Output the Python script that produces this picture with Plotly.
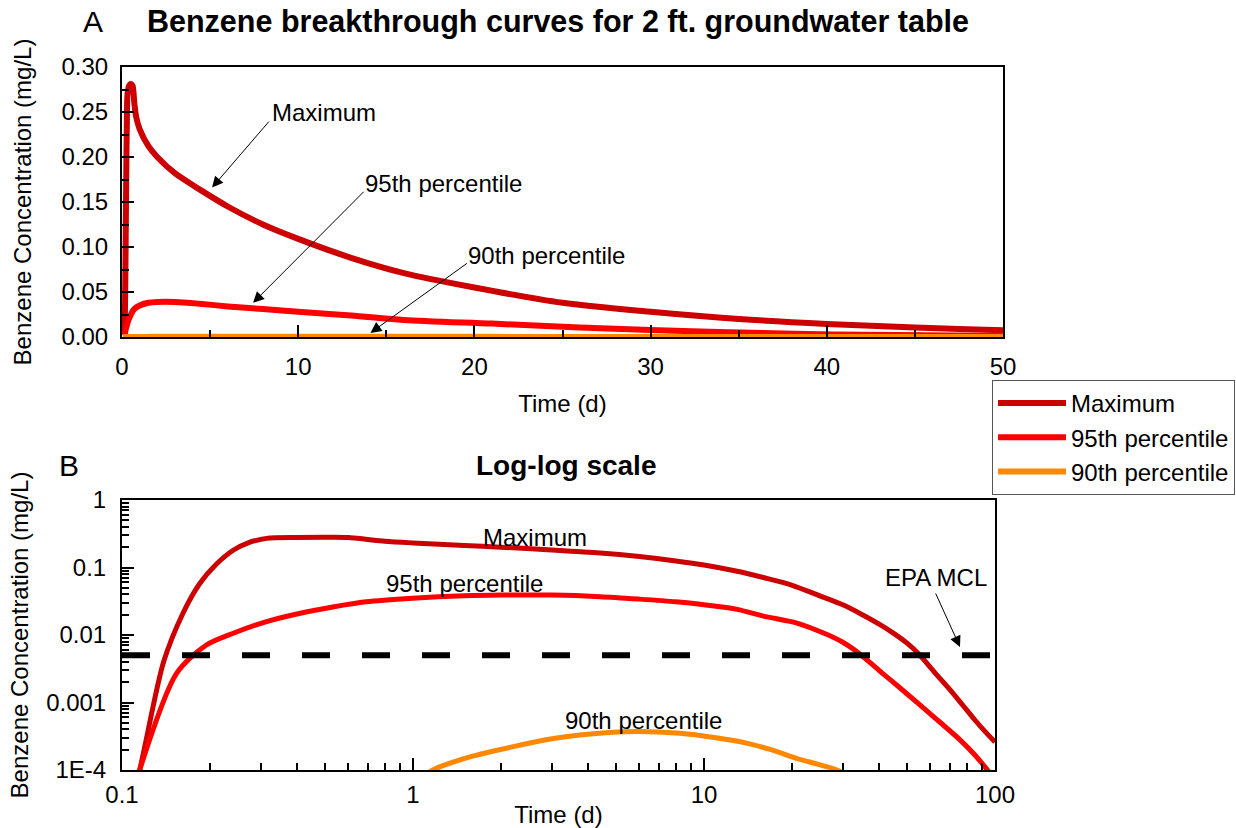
import numpy as np
import plotly.graph_objects as go

# Benzene breakthrough results for a 2 ft. groundwater table
# time in days, concentration in mg/L
time_max = [0.10, 0.115, 0.139, 0.162, 0.185, 0.21, 0.241, 0.27, 0.314, 0.40, 0.50, 0.60,
            0.70, 0.80, 1.0, 1.5, 2.0, 3.0, 4.4, 6.0, 8.0, 10.0, 13.0, 16.0, 20.0, 25.0,
            30.0, 35.0, 40.0, 45.0, 50.0, 55.0, 62.0, 70.0, 78.0, 85.0, 92.0, 100.0]
conc_max = [1e-5, 1.0e-4, 0.004, 0.021, 0.058, 0.11, 0.18, 0.23, 0.27, 0.279, 0.281, 0.279,
            0.26, 0.245, 0.231, 0.212, 0.200, 0.182, 0.164, 0.145, 0.125, 0.109, 0.088, 0.071,
            0.055, 0.038, 0.028, 0.020, 0.0145, 0.0105, 0.0075, 0.0051, 0.0028, 0.00155,
            0.00088, 0.00056, 0.00038, 0.00026]

time_p95 = [0.10, 0.115, 0.154, 0.195, 0.241, 0.314, 0.41, 0.53, 0.69, 1.0, 1.5, 2.0, 3.0,
            4.4, 6.0, 8.0, 10.0, 13.0, 16.0, 21.0, 26.0, 30.0, 34.4, 40.3, 47.2, 55.2, 64.7,
            75.8, 85.3, 92.4, 100.0]
conc_p95 = [1e-5, 1.0e-4, 0.0027, 0.0071, 0.0106, 0.0158, 0.021, 0.026, 0.031, 0.035, 0.038,
            0.039, 0.039, 0.037, 0.034, 0.031, 0.028, 0.024, 0.019, 0.0149, 0.0105, 0.0078,
            0.0052, 0.0029, 0.00164, 0.00092, 0.00051, 0.00028, 0.000167, 0.000111, 0.000071]

time_p90 = [0.10, 0.50, 1.0, 1.17, 1.6, 2.21, 3.0, 3.74, 5.42, 8.27, 11.0, 14.0, 17.0, 20.8,
            24.5, 28.6, 35.0, 50.0, 100.0]
conc_p90 = [1e-7, 5e-6, 6e-5, 1.0e-4, 0.00016, 0.000222, 0.00029, 0.00033, 0.00037, 0.00035,
            0.0003, 0.00025, 0.0002, 0.000149, 0.000122, 0.0001, 6e-5, 1.5e-5, 1e-7]

series_names = ["Maximum", "95th percentile", "90th percentile"]
series_colors = ["#cc0000", "#ff0000", "#ff8800"]
series_time = [time_max, time_p95, time_p90]
series_conc = [conc_max, conc_p95, conc_p90]

epa_mcl = 0.005            # benzene MCL, mg/L
loglog_time_span = [0.1, 100]

lin_xticks = [0, 10, 20, 30, 40, 50]
lin_yticks = [0.00, 0.05, 0.10, 0.15, 0.20, 0.25, 0.30]
log_xticks = [0.1, 1, 10, 100]
log_xticklabels = ["0.1", "1", "10", "100"]
log_yticks = [1e-4, 1e-3, 1e-2, 1e-1, 1]
log_yticklabels = ["1E-4", "0.001", "0.01", "0.1", "1"]

# label placement (time, concentration) for the curve callouts
lin_labels = [("Maximum", 8.41, 0.249, 8.41, 0.241, 5.11, 0.166),
              ("95th percentile", 13.7, 0.171, 13.8, 0.163, 7.44, 0.038),
              ("90th percentile", 19.55, 0.091, 19.66, 0.083, 14.1, 0.0045)]
log_labels = [("Maximum", 2.63, 0.283),
              ("95th percentile", 1.50, 0.057),
              ("90th percentile", 6.22, 0.00055),
              ("EPA MCL", 62.7, 0.0723)]
mcl_arrow = (62.2, 0.0434, 75.8, 0.00664)

FONT = "Liberation Sans, Arial, sans-serif"
FS = 24
W, H = 1236, 828

fig = go.Figure()

# linear panel
for t, c, name, color in zip(series_time, series_conc, series_names, series_colors):
    fig.add_trace(go.Scatter(x=t, y=c, name=name, mode="lines", legendgroup=name,
                             line=dict(color=color, width=6, shape="spline", smoothing=0.8),
                             xaxis="x", yaxis="y"))

# log-log panel
for t, c, name, color in zip(series_time, series_conc, series_names, series_colors):
    fig.add_trace(go.Scatter(x=t, y=c, name=name, mode="lines", legendgroup=name,
                             showlegend=False,
                             line=dict(color=color, width=5, shape="spline", smoothing=0.8),
                             xaxis="x2", yaxis="y2"))

fig.add_trace(go.Scatter(x=loglog_time_span, y=[epa_mcl, epa_mcl], mode="lines",
                         showlegend=False, name="EPA MCL",
                         line=dict(color="black", width=6, dash="28px,32px"),
                         xaxis="x2", yaxis="y2"))

axis_style = dict(showline=True, linecolor="black", linewidth=2, mirror=True,
                  ticks="inside", ticklen=12, tickwidth=2, tickcolor="black",
                  showgrid=False, zeroline=False,
                  tickfont=dict(family=FONT, size=FS, color="black"))
minor_style = dict(ticks="inside", ticklen=7, tickwidth=2, tickcolor="black", showgrid=False)

fig.update_layout(
    width=W, height=H,
    paper_bgcolor="white", plot_bgcolor="white",
    margin=dict(l=0, r=0, t=0, b=0, autoexpand=False),
    font=dict(family=FONT, size=FS, color="black"),
    xaxis=dict(**axis_style, domain=[122 / W, 1003 / W], anchor="y", range=[0, 50],
               tickvals=lin_xticks, minor=dict(**minor_style, dtick=5),
               ticklabelstandoff=7,
               title=dict(text="Time (d)", font=dict(size=FS), standoff=16)),
    yaxis=dict(**axis_style, domain=[1 - 337 / H, 1 - 67 / H], anchor="x", range=[0, 0.30],
               tickvals=lin_yticks, tickformat=".2f", minor=dict(**minor_style, dtick=0.025),
               ticklabelstandoff=7,
               title=dict(text="Benzene Concentration (mg/L)", font=dict(size=FS), standoff=23)),
    xaxis2=dict(**axis_style, type="log", domain=[122 / W, 995 / W], anchor="y2",
                range=[-1, 2], tickvals=log_xticks, ticktext=log_xticklabels,
                minor=dict(**minor_style, dtick="D1"), ticklabelstandoff=2,
                title=dict(text="Time (d)", font=dict(size=FS), standoff=0)),
    yaxis2=dict(**axis_style, type="log", domain=[1 - 770 / H, 1 - 500 / H], anchor="x2",
                range=[-4, 0], tickvals=log_yticks, ticktext=log_yticklabels,
                minor=dict(**minor_style, dtick="D1"), ticklabelstandoff=9,
                title=dict(text="Benzene Concentration (mg/L)", font=dict(size=FS), standoff=11)),
    legend=dict(x=992 / W, y=1 - 380 / H, xanchor="left", yanchor="top",
                bgcolor="white", bordercolor="#555555", borderwidth=1,
                font=dict(family=FONT, size=FS, color="black"),
                itemwidth=68, tracegroupgap=0),
)

annotations = [
    dict(text="A", x=92.5 / W, y=1 - 21 / H, xref="paper", yref="paper", showarrow=False,
         font=dict(size=30), xanchor="center", yanchor="middle"),
    dict(text="<b>Benzene breakthrough curves for 2 ft. groundwater table</b>",
         x=558 / W, y=1 - 21 / H, xref="paper", yref="paper", showarrow=False,
         font=dict(size=30.5), xanchor="center", yanchor="middle"),
    dict(text="B", x=69 / W, y=1 - 465 / H, xref="paper", yref="paper", showarrow=False,
         font=dict(size=30), xanchor="center", yanchor="middle"),
    dict(text="<b>Log-log scale</b>", x=566 / W, y=1 - 465 / H, xref="paper", yref="paper",
         showarrow=False, font=dict(size=28), xanchor="center", yanchor="middle"),
]

for text, tx, ty, ax, ay, hx, hy in lin_labels:
    annotations.append(dict(text=text, x=tx, y=ty, xref="x", yref="y", showarrow=False,
                            xanchor="left", yanchor="middle", font=dict(size=FS)))
    annotations.append(dict(text="", x=hx, y=hy, ax=ax, ay=ay, xref="x", yref="y",
                            axref="x", ayref="y", showarrow=True, arrowhead=2,
                            arrowsize=2.2, arrowwidth=1, arrowcolor="black", standoff=0))

for text, tx, ty in log_labels:
    annotations.append(dict(text=text, x=np.log10(tx), y=np.log10(ty), xref="x2", yref="y2",
                            showarrow=False, xanchor="center", yanchor="middle",
                            font=dict(size=FS)))

ax_t, ax_c, hd_t, hd_c = mcl_arrow
annotations.append(dict(text="", x=np.log10(hd_t), y=np.log10(hd_c), ax=np.log10(ax_t),
                        ay=np.log10(ax_c), xref="x2", yref="y2", axref="x2", ayref="y2",
                        showarrow=True, arrowhead=2, arrowsize=2.2, arrowwidth=1,
                        arrowcolor="black", standoff=0))

fig.update_layout(annotations=annotations)

fig.write_html("out.html")
